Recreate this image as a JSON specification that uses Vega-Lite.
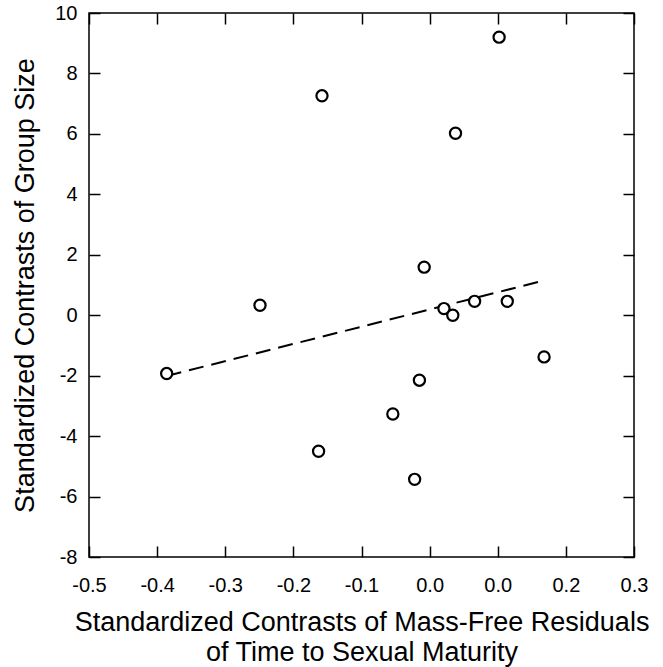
{
  "$schema": "https://vega.github.io/schema/vega-lite/v6.json",
  "width": 545,
  "height": 544,
  "autosize": "none",
  "padding": {"left": 89, "top": 13, "right": 29, "bottom": 110},
  "config": {
    "font": "Liberation Sans",
    "view": {"stroke": "black", "strokeWidth": 1.5},
    "axis": {
      "domain": false,
      "grid": false,
      "tickColor": "black",
      "tickSize": -11,
      "tickWidth": 1.5,
      "labelColor": "black",
      "labelFont": "Liberation Sans",
      "labelFontSize": 20,
      "titleFont": "Liberation Sans",
      "titleFontSize": 27,
      "titleFontWeight": "normal",
      "titleColor": "black"
    }
  },
  "datasets": {
    "points": [
      {"x": 0.102, "y": 9.2},
      {"x": -0.158, "y": 7.26},
      {"x": 0.038, "y": 6.02},
      {"x": -0.386, "y": -1.93},
      {"x": -0.249, "y": 0.33},
      {"x": -0.008, "y": 1.59},
      {"x": 0.021, "y": 0.22},
      {"x": 0.034, "y": 0.0},
      {"x": 0.066, "y": 0.46},
      {"x": 0.114, "y": 0.46},
      {"x": 0.168, "y": -1.38},
      {"x": -0.015, "y": -2.15},
      {"x": -0.054, "y": -3.27},
      {"x": -0.163, "y": -4.5},
      {"x": -0.022, "y": -5.43}
    ],
    "fit": [
      {"x": -0.386, "y": -2.01},
      {"x": 0.17, "y": 1.16}
    ]
  },
  "layer": [
    {
      "data": {"name": "fit"},
      "mark": {"type": "line", "color": "black", "strokeWidth": 2, "strokeDash": [15, 8]},
      "encoding": {
        "x": {"field": "x", "type": "quantitative", "scale": {"domain": [-0.5, 0.3], "nice": false, "zero": false},
          "axis": {"orient": "top", "labels": false, "title": null, "values": [-0.5, -0.4, -0.3, -0.2, -0.1, 0.0, 0.1, 0.2, 0.3]}},
        "y": {"field": "y", "type": "quantitative", "scale": {"domain": [-8, 10], "nice": false, "zero": false},
          "axis": {"orient": "right", "labels": false, "title": null, "values": [-8, -6, -4, -2, 0, 2, 4, 6, 8, 10]}}
      }
    },
    {
      "data": {"name": "points"},
      "mark": {"type": "point", "shape": "circle", "filled": false, "fill": "white", "fillOpacity": 1, "stroke": "black", "strokeWidth": 2.2, "size": 125, "opacity": 1},
      "encoding": {
        "x": {"field": "x", "type": "quantitative", "scale": {"domain": [-0.5, 0.3], "nice": false, "zero": false},
          "axis": {"orient": "bottom", "title": ["Standardized Contrasts of Mass-Free Residuals", "of Time to Sexual Maturity"],
            "values": [-0.5, -0.4, -0.3, -0.2, -0.1, 0.0, 0.1, 0.2, 0.3],
            "labelExpr": "abs(datum.value - 0.1) < 0.001 ? '0.0' : replace(format(datum.value, '.1f'), '\u2212', '-')",
            "labelPadding": 29, "titlePadding": 14, "titleLineHeight": 30, "labelFlush": false}},
        "y": {"field": "y", "type": "quantitative", "scale": {"domain": [-8, 10], "nice": false, "zero": false},
          "axis": {"orient": "left", "title": "Standardized Contrasts of Group Size",
            "values": [-8, -6, -4, -2, 0, 2, 4, 6, 8, 10],
            "labelExpr": "replace(format(datum.value, 'd'), '\u2212', '-')",
            "labelPadding": 23, "titlePadding": 15, "labelFlush": false}}
      }
    }
  ],
  "resolve": {"axis": {"x": "independent", "y": "independent"}}
}
